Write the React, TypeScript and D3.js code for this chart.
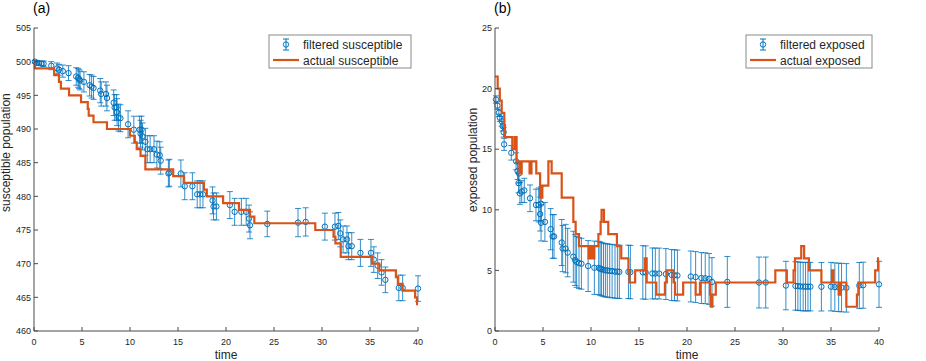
import React from "react";
import * as d3 from "d3";

const W = 926;
const H = 361;

// (a) filtered susceptible: time, filtered mean, error bar half-width
const susTime = [
  0.1, 0.3, 0.5, 0.8, 1.0, 1.8, 2.4, 2.6, 3.0, 3.6,
  4.4, 4.6, 4.7, 4.8, 5.2, 5.8, 6.0, 6.2, 6.9, 7.0,
  7.5, 7.6, 8.3, 8.4, 8.6, 8.65, 8.8, 9.0, 9.8, 10.4,
  11.0, 11.1, 11.2, 11.3, 11.6, 11.8, 12.1, 12.5, 12.8, 13.1,
  13.2, 14.0, 14.1, 15.3, 15.7, 16.5, 17.0, 17.3, 17.6, 18.6,
  18.7, 19.0, 20.4, 20.9, 21.6, 22.1, 22.4, 22.5, 24.3, 27.5,
  28.3, 30.3, 31.35, 31.7, 31.9, 32.2, 32.6, 32.75, 33.1, 34.0,
  35.1, 35.4, 35.8, 36.2, 36.6, 38.0, 38.4, 40.0,
];
const susMean = [
  500.0, 499.8, 499.8, 499.7, 499.7, 499.4, 499.0, 498.8, 498.6, 498.3,
  497.8, 497.6, 497.4, 497.2, 497.0, 496.5, 496.3, 496.1, 495.7, 495.2,
  495.2, 494.6, 493.9, 493.2, 493.2, 492.5, 491.7, 491.6, 490.7, 489.9,
  489.9, 489.3, 489.9, 488.9, 488.1, 487.0, 487.0, 487.0, 486.2, 486.1,
  485.3, 483.4, 483.5, 483.4, 481.5, 481.5, 480.3, 480.3, 480.3, 479.4,
  478.5, 478.5, 478.7, 477.7, 477.7, 477.7, 476.7, 475.7, 475.9, 476.1,
  476.2, 475.5, 475.5, 475.6, 474.5, 473.6, 473.6, 472.6, 472.6, 471.6,
  471.6, 470.6, 469.7, 468.7, 467.6, 466.4, 466.4, 466.3,
];
const susErr = [
  0.2, 0.3, 0.3, 0.3, 0.4, 0.6, 0.8, 0.8, 0.9, 1.1,
  1.3, 1.4, 1.4, 1.4, 1.5, 1.6, 1.7, 1.7, 1.8, 1.8,
  1.8, 1.9, 1.9, 1.9, 1.9, 2.0, 2.0, 2.0, 2.0, 2.0,
  2.0, 2.0, 2.0, 2.0, 2.0, 2.0, 2.0, 2.0, 2.0, 2.0,
  2.0, 2.0, 2.0, 2.0, 2.0, 2.0, 2.0, 2.0, 2.0, 2.0,
  2.0, 2.0, 2.0, 2.0, 2.0, 2.0, 2.0, 2.0, 1.9, 2.1,
  2.1, 2.0, 2.0, 2.0, 2.0, 2.0, 2.0, 2.0, 2.0, 2.0,
  2.0, 1.9, 1.9, 1.9, 1.9, 1.9, 1.9, 1.9,
];

// (a) actual susceptible: times where the count changes, and the new count
const susStepTime = [
  0, 0.1, 2.1, 2.6, 2.8, 3.65, 4.9, 5.6, 5.7, 6.2, 7.6, 10.0, 10.5, 10.7,
  11.1, 11.6, 14.5, 15.6, 17.7, 18.0, 19.7, 21.35, 22.5, 22.95, 29.3, 31.2,
  31.4, 31.95, 35.2, 35.97, 37.7, 37.9, 38.4, 39.7, 39.9,
];
const susStepValue = [
  500, 499, 498, 497, 496, 495, 494, 493, 492, 491, 490, 489, 488, 487,
  486, 484, 483, 482, 481, 480, 479, 478, 477, 476, 475, 474,
  473, 471, 470, 469, 468, 467, 466, 465, 464,
];

// (b) filtered exposed
const expTime = [
  0.1, 0.25, 0.4, 0.5, 0.7, 0.8, 0.9, 0.95, 1.7, 2.2,
  2.35, 2.5, 2.45, 2.6, 2.78, 3.05, 3.65, 4.27, 4.55, 4.8,
  4.7, 4.8, 5.2, 5.8, 6.0, 6.15, 6.95, 7.05, 7.36, 7.57,
  8.16, 8.35, 8.5, 8.75, 9.0, 9.7, 10.35, 10.8, 10.95, 11.1,
  11.3, 11.5, 11.7, 11.95, 12.2, 12.5, 12.75, 12.95, 13.9, 14.1,
  15.4, 15.7, 16.4, 16.7, 17.1, 17.8, 18.4, 18.7, 19.0, 20.4,
  20.9, 21.5, 21.9, 22.3, 22.6, 24.2, 27.5, 28.2, 30.3, 31.3,
  31.55, 31.8, 32.1, 32.35, 32.6, 32.85, 34.0, 35.0, 35.4, 35.8,
  36.1, 36.6, 37.95, 38.35, 40.0,
];
const expMean = [
  19.1, 18.6, 18.0, 17.6, 17.3, 16.9, 16.4, 15.4, 14.7, 14.0,
  13.2, 13.0, 12.2, 11.35, 11.5, 11.6, 10.95, 10.4, 10.4, 10.5,
  9.65, 8.93, 9.0, 8.4, 7.8, 7.8, 7.3, 6.8, 6.8, 6.47,
  6.13, 5.85, 5.7, 5.6, 5.55, 5.36, 5.22, 5.2, 5.15, 5.1,
  5.05, 5.0, 5.0, 4.95, 4.95, 4.9, 4.9, 4.88, 4.88, 4.86,
  4.84, 4.82, 4.75, 4.74, 4.74, 4.7, 4.62, 4.6, 4.58, 4.5,
  4.45, 4.37, 4.35, 4.3, 4.05, 4.05, 4.0, 4.0, 3.75, 3.72,
  3.7, 3.68, 3.66, 3.66, 3.66, 3.66, 3.65, 3.66, 3.62, 3.6,
  3.58, 3.56, 3.75, 3.78, 3.85,
];
const expErr = [
  0.3, 0.3, 0.3, 0.3, 0.4, 0.4, 0.4, 0.5, 0.6, 0.7,
  0.7, 0.8, 0.8, 0.9, 0.9, 1.0, 1.1, 1.3, 1.4, 1.4,
  1.4, 1.5, 1.6, 1.7, 1.8, 1.8, 1.9, 1.9, 2.0, 2.0,
  2.1, 2.1, 2.1, 2.1, 2.1, 2.1, 2.2, 2.2, 2.2, 2.2,
  2.2, 2.2, 2.2, 2.2, 2.2, 2.2, 2.2, 2.2, 2.2, 2.2,
  2.2, 2.2, 2.1, 2.1, 2.1, 2.1, 2.1, 2.1, 2.1, 2.1,
  2.1, 2.1, 2.1, 2.1, 2.0, 2.1, 2.1, 2.1, 2.0, 2.0,
  2.0, 2.0, 2.0, 2.0, 2.0, 2.0, 2.0, 2.0, 2.0, 2.0,
  2.0, 2.0, 1.9, 1.9, 1.9,
];

// (b) actual exposed, step changes
const expStepTime = [
  0, 0.28, 0.5, 0.7, 0.97, 1.04, 1.8, 2.05, 2.25, 2.55, 2.78, 3.6, 3.8, 4.3,
  4.7, 4.93, 5.56, 5.9, 6.95, 8.16, 8.4, 8.75, 9.75, 9.95, 10.15, 10.35,
  10.77, 11.0, 11.1, 11.35, 11.8, 12.7, 13.15, 13.9, 14.0, 14.6, 15.6, 15.8,
  16.8, 17.7, 17.9, 18.6, 18.75, 19.6, 20.9, 21.35, 22.4, 22.5, 22.65, 23.0,
  29.2, 30.4, 31.1, 31.25, 31.9, 32.2, 32.7, 34.0, 35.1, 35.25, 35.8, 36.0,
  36.6, 37.7, 37.85, 39.6, 39.9,
];
const expStepValue = [
  21, 20, 19, 18, 17, 16, 15, 16, 14, 13, 14, 13, 14, 13,
  11, 12, 14, 13, 11, 9, 8, 7, 6, 7, 6, 7,
  8, 9, 10, 9, 8, 7, 6, 5, 4, 5, 6, 4,
  3, 4, 5, 4, 3, 4, 3, 4, 3, 2, 3, 4,
  5, 4, 5, 6, 7, 6, 5, 4, 5, 4, 3, 4,
  2, 3, 4, 5, 6,
];

const timeTicks = [0, 5, 10, 15, 20, 25, 30, 35, 40];
const susTicks = [460, 465, 470, 475, 480, 485, 490, 495, 500, 505];
const expTicks = [0, 5, 10, 15, 20, 25];

const BLUE = "#0072BD";
const RED = "#D95319";
const AXIS = "#4a4a4a";
const TEXT = "#262626";
const FONT = "'Liberation Sans', Arial, Helvetica, sans-serif";

const TOP = 28;
const BOTTOM = 331;
const T_END = 40;

type PanelProps = {
  x0: number;
  x1: number;
  title: string;
  yLabel: string;
  yLabelX: number;
  yDomain: [number, number];
  yTicks: number[];
  time: number[];
  mean: number[];
  err: number[];
  stepTime: number[];
  stepValue: number[];
  legendX: number;
  legendW: number;
  legendLabels: string[];
};

function Panel(p: PanelProps) {
  const x = d3.scaleLinear().domain([0, T_END]).range([p.x0, p.x1]);
  const y = d3.scaleLinear().domain(p.yDomain).range([BOTTOM, TOP]);

  const steps: [number, number][] = p.stepTime.map((t, i) => [t, p.stepValue[i]]);
  steps.push([T_END, p.stepValue[p.stepValue.length - 1]]);
  const stepPath = d3
    .line<[number, number]>()
    .x((d) => x(d[0]))
    .y((d) => y(d[1]))
    .curve(d3.curveStepAfter)(steps);

  const cap = 3;
  const lx = p.legendX;
  const ly = 35;

  return (
    <g>
      {/* error bars */}
      <g stroke={BLUE} strokeWidth={1} strokeOpacity={0.8} fill="none">
        {p.time.map((t, i) => {
          const cx = x(t);
          const yTop = y(p.mean[i] + p.err[i]);
          const yBot = y(p.mean[i] - p.err[i]);
          return (
            <g key={i}>
              <line x1={cx} x2={cx} y1={yTop} y2={yBot} />
              <line x1={cx - cap} x2={cx + cap} y1={yTop} y2={yTop} />
              <line x1={cx - cap} x2={cx + cap} y1={yBot} y2={yBot} />
            </g>
          );
        })}
      </g>
      <g stroke={BLUE} strokeWidth={1} fill="none">
        {p.time.map((t, i) => (
          <circle key={i} cx={x(t)} cy={y(p.mean[i])} r={2.7} />
        ))}
      </g>

      {/* actual step line */}
      <path d={stepPath ?? ""} fill="none" stroke={RED} strokeWidth={2.2} strokeLinejoin="miter" />

      {/* axes */}
      <g fontFamily={FONT} fontSize={9} fill={TEXT}>
        <line x1={p.x0} x2={p.x1} y1={BOTTOM} y2={BOTTOM} stroke={AXIS} />
        <line x1={p.x0} x2={p.x0} y1={TOP} y2={BOTTOM} stroke={AXIS} />
        {timeTicks.map((t) => (
          <g key={t}>
            <line x1={x(t)} x2={x(t)} y1={BOTTOM} y2={BOTTOM - 4} stroke={AXIS} />
            <text x={x(t)} y={344.5} textAnchor="middle">
              {t}
            </text>
          </g>
        ))}
        {p.yTicks.map((v) => (
          <g key={v}>
            <line x1={p.x0} x2={p.x0 + 4} y1={y(v)} y2={y(v)} stroke={AXIS} />
            <text x={p.x0 - 3} y={y(v) + 3.2} textAnchor="end">
              {v}
            </text>
          </g>
        ))}
      </g>

      <text
        x={(p.x0 + p.x1) / 2}
        y={359}
        textAnchor="middle"
        fontFamily={FONT}
        fontSize={12}
        fill={TEXT}
      >
        time
      </text>
      <text
        transform={`translate(${p.yLabelX},212) rotate(-90)`}
        textAnchor="start"
        fontFamily={FONT}
        fontSize={12}
        fill={TEXT}
      >
        {p.yLabel}
      </text>
      <text x={p.x0 - 1} y={12.5} fontFamily={FONT} fontSize={14} fill="#000">
        {p.title}
      </text>

      {/* legend */}
      <g>
        <rect x={lx} y={ly} width={p.legendW} height={33} fill="#fff" stroke="#8a8a8a" strokeWidth={1} />
        <g stroke={BLUE} strokeWidth={1} fill="none">
          <line x1={lx + 17} x2={lx + 17} y1={ly + 4} y2={ly + 15} />
          <line x1={lx + 14} x2={lx + 20} y1={ly + 4} y2={ly + 4} />
          <line x1={lx + 14} x2={lx + 20} y1={ly + 15} y2={ly + 15} />
          <circle cx={lx + 17} cy={ly + 9.5} r={2.7} />
        </g>
        <line x1={lx + 4} x2={lx + 30} y1={ly + 25} y2={ly + 25} stroke={RED} strokeWidth={2.2} />
        <g fontFamily={FONT} fontSize={12} fill={TEXT}>
          <text x={lx + 34} y={ly + 13.5}>
            {p.legendLabels[0]}
          </text>
          <text x={lx + 34} y={ly + 29.5}>
            {p.legendLabels[1]}
          </text>
        </g>
      </g>
    </g>
  );
}

export default function App() {
  return (
    <svg
      width={W}
      height={H}
      viewBox={`0 0 ${W} ${H}`}
      style={{ position: "absolute", left: 0, top: 0, background: "#fff" }}
    >
      <rect width={W} height={H} fill="#fff" />
      <Panel
        x0={34}
        x1={418}
        title="(a)"
        yLabel="susceptible population"
        yLabelX={10}
        yDomain={[460, 505]}
        yTicks={susTicks}
        time={susTime}
        mean={susMean}
        err={susErr}
        stepTime={susStepTime}
        stepValue={susStepValue}
        legendX={269}
        legendW={142}
        legendLabels={["filtered susceptible", "actual susceptible"]}
      />
      <Panel
        x0={495}
        x1={879}
        title="(b)"
        yLabel="exposed population"
        yLabelX={477}
        yDomain={[0, 25]}
        yTicks={expTicks}
        time={expTime}
        mean={expMean}
        err={expErr}
        stepTime={expStepTime}
        stepValue={expStepValue}
        legendX={746}
        legendW={126}
        legendLabels={["filtered exposed", "actual exposed"]}
      />
    </svg>
  );
}
